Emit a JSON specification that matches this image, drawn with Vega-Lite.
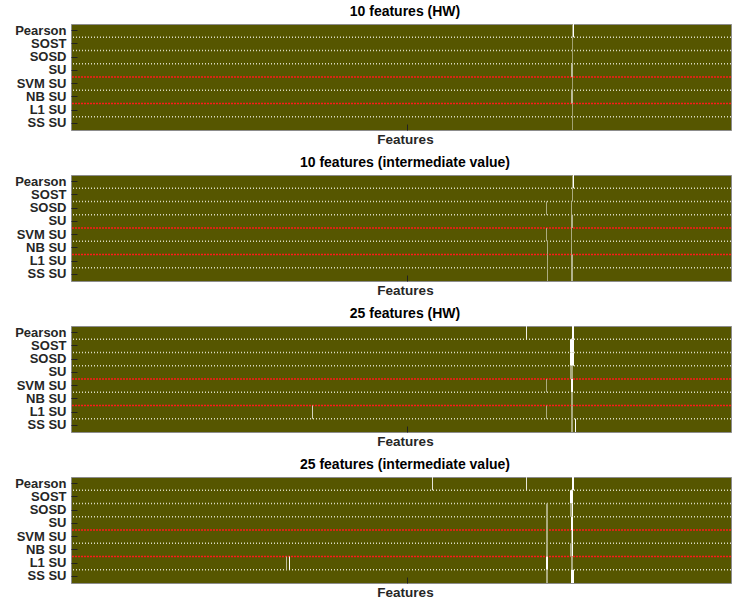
{
  "$schema": "https://vega.github.io/schema/vega-lite/v6.json",
  "padding": {"left": 5, "top": 4, "right": 0, "bottom": 0},
  "spacing": 8,
  "config": {
    "view": {"fill": "#565600", "stroke": "#8c8c8c", "strokeWidth": 1},
    "font": "Liberation Sans",
    "title": {"font": "Liberation Sans", "fontSize": 14, "fontWeight": "bold", "color": "#000000", "offset": 5, "dx": 4},
    "axis": {"labelFont": "Liberation Sans", "titleFont": "Liberation Sans", "labelColor": "#262626", "titleColor": "#262626", "tickColor": "#222222", "tickWidth": 1, "domain": false, "grid": false},
    "axisY": {"title": null, "labelFontSize": 13, "labelFontWeight": "bold", "tickSize": 6, "offset": -6, "labelPadding": 5, "minExtent": 71, "maxExtent": 71},
    "axisX": {"labels": false, "tickSize": 6, "offset": -6, "titleFontSize": 13.5, "titleFontWeight": "bold", "titlePadding": 2, "titleX": 334}
  },
  "datasets": {
    "seps": [
      {"m": "SOST", "c": "w"}, {"m": "SOSD", "c": "w"}, {"m": "SU", "c": "w"},
      {"m": "SVM SU", "c": "r"}, {"m": "NB SU", "c": "w"}, {"m": "L1 SU", "c": "r"}, {"m": "SS SU", "c": "w"}
    ],
    "p1": [
      {"m": "Pearson", "f": 501, "v": 0.45}, {"m": "Pearson", "f": 502, "v": 1},
      {"m": "SOST", "f": 501, "v": 0.45},
      {"m": "SOSD", "f": 501, "v": 0.45},
      {"m": "SU", "f": 500, "v": 0.6}, {"m": "SU", "f": 501, "v": 0.6},
      {"m": "SVM SU", "f": 501, "v": 0.45},
      {"m": "NB SU", "f": 500, "v": 0.6}, {"m": "NB SU", "f": 501, "v": 0.6},
      {"m": "L1 SU", "f": 501, "v": 0.45},
      {"m": "SS SU", "f": 501, "v": 0.45}
    ],
    "p2": [
      {"m": "Pearson", "f": 501, "v": 0.45}, {"m": "Pearson", "f": 502, "v": 1},
      {"m": "SOST", "f": 501, "v": 0.5},
      {"m": "SOSD", "f": 475, "v": 0.5}, {"m": "SOSD", "f": 500, "v": 0.5},
      {"m": "SU", "f": 500, "v": 0.55}, {"m": "SU", "f": 501, "v": 0.55},
      {"m": "SVM SU", "f": 475, "v": 0.5}, {"m": "SVM SU", "f": 500, "v": 0.5},
      {"m": "NB SU", "f": 476, "v": 0.5}, {"m": "NB SU", "f": 500, "v": 0.5},
      {"m": "L1 SU", "f": 476, "v": 0.5}, {"m": "L1 SU", "f": 500, "v": 0.55}, {"m": "L1 SU", "f": 501, "v": 0.55},
      {"m": "SS SU", "f": 476, "v": 0.5}, {"m": "SS SU", "f": 500, "v": 0.55}, {"m": "SS SU", "f": 501, "v": 0.55}
    ],
    "p3": [
      {"m": "Pearson", "f": 455, "v": 0.9}, {"m": "Pearson", "f": 501, "v": 1}, {"m": "Pearson", "f": 502, "v": 1},
      {"m": "SOST", "f": 499, "v": 1}, {"m": "SOST", "f": 500, "v": 1}, {"m": "SOST", "f": 501, "v": 1}, {"m": "SOST", "f": 502, "v": 1},
      {"m": "SOSD", "f": 499, "v": 1}, {"m": "SOSD", "f": 500, "v": 1}, {"m": "SOSD", "f": 501, "v": 1}, {"m": "SOSD", "f": 502, "v": 1},
      {"m": "SU", "f": 499, "v": 0.5}, {"m": "SU", "f": 500, "v": 0.5}, {"m": "SU", "f": 501, "v": 0.5},
      {"m": "SVM SU", "f": 475, "v": 0.5}, {"m": "SVM SU", "f": 500, "v": 1}, {"m": "SVM SU", "f": 501, "v": 1},
      {"m": "NB SU", "f": 500, "v": 0.5}, {"m": "NB SU", "f": 501, "v": 0.5},
      {"m": "L1 SU", "f": 241, "v": 0.75}, {"m": "L1 SU", "f": 475, "v": 0.5}, {"m": "L1 SU", "f": 500, "v": 0.5}, {"m": "L1 SU", "f": 501, "v": 0.5},
      {"m": "SS SU", "f": 500, "v": 0.5}, {"m": "SS SU", "f": 501, "v": 0.5}, {"m": "SS SU", "f": 504, "v": 1}
    ],
    "p4": [
      {"m": "Pearson", "f": 361, "v": 0.85}, {"m": "Pearson", "f": 455, "v": 0.85}, {"m": "Pearson", "f": 501, "v": 1}, {"m": "Pearson", "f": 502, "v": 1},
      {"m": "SOST", "f": 499, "v": 1}, {"m": "SOST", "f": 500, "v": 1}, {"m": "SOST", "f": 501, "v": 1},
      {"m": "SOSD", "f": 475, "v": 0.5}, {"m": "SOSD", "f": 476, "v": 0.5}, {"m": "SOSD", "f": 499, "v": 0.5}, {"m": "SOSD", "f": 500, "v": 0.5}, {"m": "SOSD", "f": 501, "v": 1},
      {"m": "SU", "f": 475, "v": 0.5}, {"m": "SU", "f": 476, "v": 0.5}, {"m": "SU", "f": 500, "v": 1}, {"m": "SU", "f": 501, "v": 1},
      {"m": "SVM SU", "f": 475, "v": 0.5}, {"m": "SVM SU", "f": 476, "v": 0.5}, {"m": "SVM SU", "f": 500, "v": 0.5}, {"m": "SVM SU", "f": 501, "v": 1},
      {"m": "NB SU", "f": 475, "v": 0.5}, {"m": "NB SU", "f": 476, "v": 0.5}, {"m": "NB SU", "f": 499, "v": 0.5}, {"m": "NB SU", "f": 500, "v": 0.5}, {"m": "NB SU", "f": 501, "v": 1},
      {"m": "L1 SU", "f": 215, "v": 0.6}, {"m": "L1 SU", "f": 218, "v": 1}, {"m": "L1 SU", "f": 475, "v": 1}, {"m": "L1 SU", "f": 476, "v": 1}, {"m": "L1 SU", "f": 500, "v": 0.5}, {"m": "L1 SU", "f": 501, "v": 0.5},
      {"m": "SS SU", "f": 475, "v": 0.5}, {"m": "SS SU", "f": 476, "v": 0.5}, {"m": "SS SU", "f": 500, "v": 1}, {"m": "SS SU", "f": 501, "v": 1}, {"m": "SS SU", "f": 502, "v": 1}
    ]
  },
  "vconcat": [
    {
      "width": 660, "height": 106,
      "title": "10 features (HW)",
      "layer": [
        {"data": {"name": "seps"}, "mark": {"type": "rule", "strokeWidth": 1.5},
         "encoding": {
           "y": {"field": "m", "type": "nominal", "bandPosition": 0, "title": null},
           "stroke": {"field": "c", "type": "nominal", "scale": {"domain": ["w", "r"], "range": ["#dcdcc4", "#ff1a1a"]}, "legend": null},
           "strokeDash": {"field": "c", "type": "nominal", "scale": {"domain": ["w", "r"], "range": [[1, 2], [2, 1]]}, "legend": null}
         }},
        {"data": {"name": "p1"}, "mark": {"type": "tick", "size": 13.25, "thickness": 1, "opacity": 1},
         "encoding": {
           "x": {"field": "f", "type": "quantitative", "scale": {"domain": [-0.5, 659.5], "nice": false, "zero": false}, "title": "Features", "axis": {"values": [335]}},
           "y": {"field": "m", "type": "nominal", "scale": {"domain": ["Pearson", "SOST", "SOSD", "SU", "SVM SU", "NB SU", "L1 SU", "SS SU"], "paddingInner": 0, "paddingOuter": 0}, "title": null},
           "color": {"field": "v", "type": "quantitative", "scale": {"domain": [0, 1], "range": ["#565600", "#ffffff"], "interpolate": "rgb"}, "legend": null}
         }}
      ]
    },
    {
      "width": 660, "height": 106,
      "title": "10 features (intermediate value)",
      "layer": [
        {"data": {"name": "seps"}, "mark": {"type": "rule", "strokeWidth": 1.5},
         "encoding": {
           "y": {"field": "m", "type": "nominal", "bandPosition": 0, "title": null},
           "stroke": {"field": "c", "type": "nominal", "scale": {"domain": ["w", "r"], "range": ["#dcdcc4", "#ff1a1a"]}, "legend": null},
           "strokeDash": {"field": "c", "type": "nominal", "scale": {"domain": ["w", "r"], "range": [[1, 2], [2, 1]]}, "legend": null}
         }},
        {"data": {"name": "p2"}, "mark": {"type": "tick", "size": 13.25, "thickness": 1, "opacity": 1},
         "encoding": {
           "x": {"field": "f", "type": "quantitative", "scale": {"domain": [-0.5, 659.5], "nice": false, "zero": false}, "title": "Features", "axis": {"values": [335]}},
           "y": {"field": "m", "type": "nominal", "scale": {"domain": ["Pearson", "SOST", "SOSD", "SU", "SVM SU", "NB SU", "L1 SU", "SS SU"], "paddingInner": 0, "paddingOuter": 0}, "title": null},
           "color": {"field": "v", "type": "quantitative", "scale": {"domain": [0, 1], "range": ["#565600", "#ffffff"], "interpolate": "rgb"}, "legend": null}
         }}
      ]
    },
    {
      "width": 660, "height": 106,
      "title": "25 features (HW)",
      "layer": [
        {"data": {"name": "seps"}, "mark": {"type": "rule", "strokeWidth": 1.5},
         "encoding": {
           "y": {"field": "m", "type": "nominal", "bandPosition": 0, "title": null},
           "stroke": {"field": "c", "type": "nominal", "scale": {"domain": ["w", "r"], "range": ["#dcdcc4", "#ff1a1a"]}, "legend": null},
           "strokeDash": {"field": "c", "type": "nominal", "scale": {"domain": ["w", "r"], "range": [[1, 2], [2, 1]]}, "legend": null}
         }},
        {"data": {"name": "p3"}, "mark": {"type": "tick", "size": 13.25, "thickness": 1, "opacity": 1},
         "encoding": {
           "x": {"field": "f", "type": "quantitative", "scale": {"domain": [-0.5, 659.5], "nice": false, "zero": false}, "title": "Features", "axis": {"values": [335]}},
           "y": {"field": "m", "type": "nominal", "scale": {"domain": ["Pearson", "SOST", "SOSD", "SU", "SVM SU", "NB SU", "L1 SU", "SS SU"], "paddingInner": 0, "paddingOuter": 0}, "title": null},
           "color": {"field": "v", "type": "quantitative", "scale": {"domain": [0, 1], "range": ["#565600", "#ffffff"], "interpolate": "rgb"}, "legend": null}
         }}
      ]
    },
    {
      "width": 660, "height": 106,
      "title": "25 features (intermediate value)",
      "layer": [
        {"data": {"name": "seps"}, "mark": {"type": "rule", "strokeWidth": 1.5},
         "encoding": {
           "y": {"field": "m", "type": "nominal", "bandPosition": 0, "title": null},
           "stroke": {"field": "c", "type": "nominal", "scale": {"domain": ["w", "r"], "range": ["#dcdcc4", "#ff1a1a"]}, "legend": null},
           "strokeDash": {"field": "c", "type": "nominal", "scale": {"domain": ["w", "r"], "range": [[1, 2], [2, 1]]}, "legend": null}
         }},
        {"data": {"name": "p4"}, "mark": {"type": "tick", "size": 13.25, "thickness": 1, "opacity": 1},
         "encoding": {
           "x": {"field": "f", "type": "quantitative", "scale": {"domain": [-0.5, 659.5], "nice": false, "zero": false}, "title": "Features", "axis": {"values": [335]}},
           "y": {"field": "m", "type": "nominal", "scale": {"domain": ["Pearson", "SOST", "SOSD", "SU", "SVM SU", "NB SU", "L1 SU", "SS SU"], "paddingInner": 0, "paddingOuter": 0}, "title": null},
           "color": {"field": "v", "type": "quantitative", "scale": {"domain": [0, 1], "range": ["#565600", "#ffffff"], "interpolate": "rgb"}, "legend": null}
         }}
      ]
    }
  ]
}
